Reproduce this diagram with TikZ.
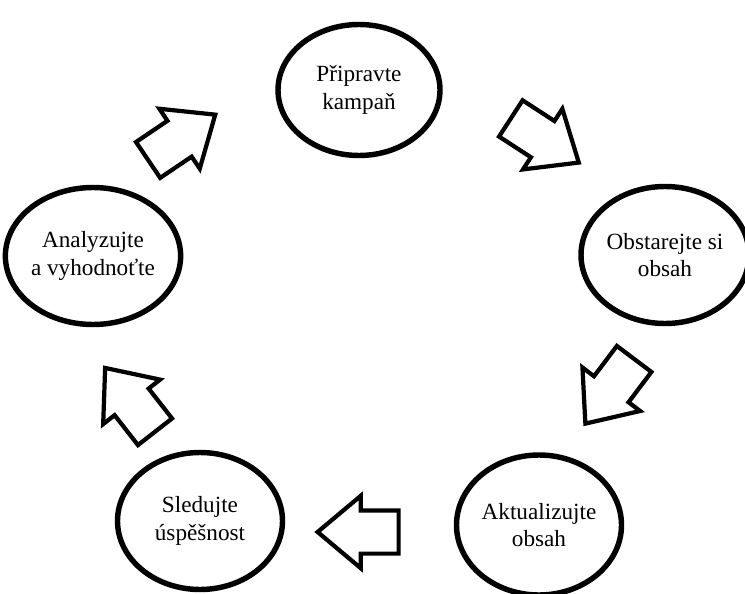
\documentclass[tikz,border=0pt]{standalone}
\usepackage{fontspec}
\setmainfont{Liberation Serif}
\usetikzlibrary{shapes.geometric,shapes.arrows}
\begin{document}
\begin{tikzpicture}[
  stage/.style={ellipse, draw, line width=3.1pt, minimum width=3.3cm, minimum height=2.74cm,
    inner sep=0pt, align=center, font=\fontsize{13.2}{15.5}\selectfont},
  blockarrow/.style={single arrow, draw, line width=2.4pt, fill=white, inner xsep=0pt,
    inner ysep=0.39cm, minimum height=1.62cm, single arrow head extend=0.29cm,
    single arrow tip angle=80}
]
  \useasboundingbox (0,0) rectangle (14.9,11.86);
  % Stages of the cycle
  \node[stage, minimum width=3.24cm, minimum height=2.62cm] (prepare) at (7.18,10.06) {Připravte\\kampaň};
  \node[stage, minimum width=3.36cm] (obtain) at (13.3,6.76) {Obstarejte si\\obsah};
  \node[stage, minimum height=2.8cm] (update) at (10.78,1.36) {Aktualizujte\\obsah};
  \node[stage] (track) at (4.0,1.44) {Sledujte\\úspěšnost};
  \node[stage, minimum width=3.12cm] (analyze) at (1.86,6.74) {Analyzujte\\a vyhodnoťte};
  % Block arrows between stages
  \node[blockarrow, rotate=34] (a1) at (3.42,8.97) {};
  \node[blockarrow, rotate=-33] (a2) at (10.68,9.19) {};
  \node[blockarrow, rotate=-127] (a3) at (12.35,4.24) {};
  \node[blockarrow, rotate=180] (a4) at (7.42,1.22) {};
  \node[blockarrow, rotate=128] (a5) at (2.76,3.66) {};
\end{tikzpicture}
\end{document}
